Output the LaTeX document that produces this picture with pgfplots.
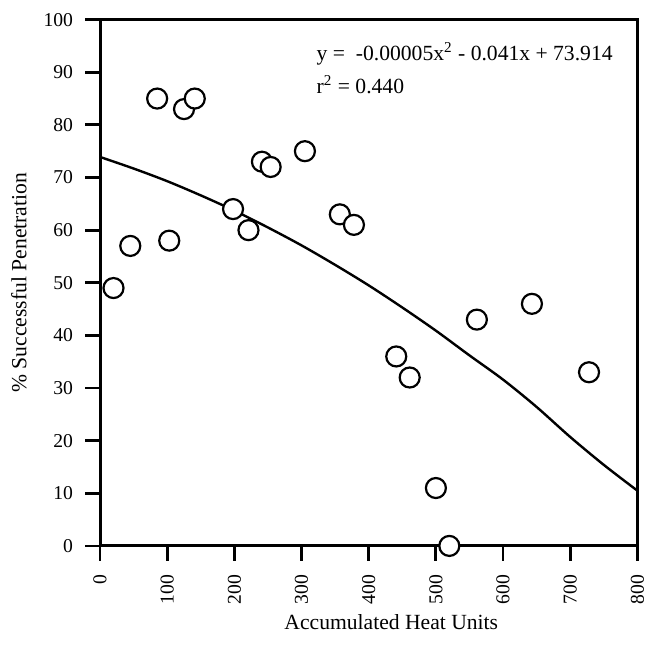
\documentclass[border=0pt]{standalone}
\usepackage{fontspec}
\setmainfont{Liberation Serif}
\usepackage{pgfplots}
\pgfplotsset{compat=1.18}

\begin{document}
\begin{tikzpicture}
\begin{axis}[
  scale only axis,
  width=268.5pt, height=263pt,
  xmin=0, xmax=800, ymin=0, ymax=100,
  xtick={0,100,...,800}, ytick={0,10,...,100},
  xtick pos=bottom, ytick pos=left,
  tick align=outside,
  major tick length=7.5pt,
  tick style={line width=1.4pt, black},
  axis line style={line width=1.5pt},
  /pgf/number format/assume math mode=true,
  tick label style={font=\fontsize{9.8}{10}\selectfont},
  xticklabel style={rotate=90, anchor=east, xshift=-3.5pt},
  yticklabel style={xshift=-2.5pt},
  xlabel={Accumulated Heat Units},
  ylabel={\% Successful Penetration},
  label style={font=\fontsize{10.8}{12}\selectfont},
  xlabel style={at={(axis description cs:0.542,-0.158)}, anchor=base},
  ylabel style={at={(axis description cs:-0.151,0.5)}, anchor=center},
  clip=false,
]
  % fitted quadratic curve
  \addplot[black, line width=1.2pt, smooth] coordinates {
    (0,73.9) (50,71.7) (100,69.3) (150,66.6) (200,63.7) (250,60.5)
    (300,57.1) (350,53.4) (400,49.5) (450,45.3) (500,40.9) (550,36.2)
    (600,31.6) (650,26.4) (700,20.7) (750,15.4) (800,10.5)
  };
  % observations
  \addplot[only marks, mark=*, mark size=5pt,
    mark options={fill=white, draw=black, line width=1.1pt}] coordinates {
    (20,49) (45,57) (85,85) (103,58) (125,83) (141,85) (198,64) (221,60)
    (241,73) (254,72) (305,75) (357,63) (378,61) (441,36) (461,32)
    (500,11) (520,0) (561,43) (643,46) (728,33)
  };
  \node[anchor=base west, font=\fontsize{10.8}{12}\selectfont, inner sep=0pt]
    at (axis cs:322,92.2) {y =\ \ -0.00005x\textsuperscript{2} - 0.041x + 73.914};
  \node[anchor=base west, font=\fontsize{10.8}{12}\selectfont, inner sep=0pt]
    at (axis cs:322,86.0) {r\textsuperscript{2} = 0.440};
\end{axis}
\pgfresetboundingbox
\path[use as bounding box] (-50pt,-56pt) rectangle (275.5pt,272.8pt);
\end{tikzpicture}
\end{document}
